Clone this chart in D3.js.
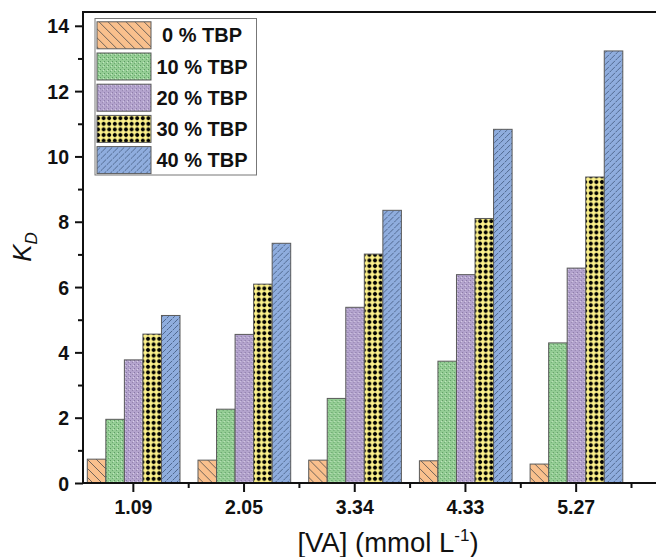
<!DOCTYPE html>
<html>
<head>
<meta charset="utf-8">
<script src="https://cdn.jsdelivr.net/npm/d3@7"></script>
<style>
  html, body { margin: 0; padding: 0; background: #fff; }
  svg { display: block; }
</style>
</head>
<body>
<svg id="chart" width="656" height="557"></svg>
<script>
// ---- Data ----
const categories = ["1.09", "2.05", "3.34", "4.33", "5.27"];
const seriesNames = ["0 % TBP", "10 % TBP", "20 % TBP", "30 % TBP", "40 % TBP"];
const tbp0  = [0.73, 0.70, 0.70, 0.68, 0.58];
const tbp10 = [1.95, 2.26, 2.59, 3.73, 4.29];
const tbp20 = [3.77, 4.55, 5.38, 6.38, 6.58];
const tbp30 = [4.56, 6.09, 7.01, 8.10, 9.37];
const tbp40 = [5.13, 7.34, 8.35, 10.83, 13.23];
const yTicks = [0, 2, 4, 6, 8, 10, 12, 14];
const yMinorTicks = [1, 3, 5, 7, 9, 11, 13];

const seriesValues = [tbp0, tbp10, tbp20, tbp30, tbp40];

const svg = d3.select("#chart");
const plot = { left: 83, top: 12, right: 662, bottom: 483 };
const FONT = "Liberation Sans, Arial, sans-serif";

// ---- Patterns ----
const defs = svg.append("defs");
// 0%: orange with backslash lines
{
  const p = defs.append("pattern").attr("id", "p0").attr("patternUnits", "userSpaceOnUse")
    .attr("width", 9).attr("height", 9);
  p.append("rect").attr("width", 9).attr("height", 9).attr("fill", "#F9C08D");
  p.append("path").attr("d", "M0,0 L9,9 M-9,0 L0,9 M9,0 L18,9 M0,-9 L9,0 M0,9 L9,18")
    .attr("stroke", "#4a4a4a").attr("stroke-width", 0.8);
}
// 10%: green speckle
{
  const p = defs.append("pattern").attr("id", "p1").attr("patternUnits", "userSpaceOnUse")
    .attr("width", 4).attr("height", 4);
  p.append("rect").attr("width", 4).attr("height", 4).attr("fill", "#94CD94");
  p.append("rect").attr("x", 0).attr("y", 0).attr("width", 1).attr("height", 1).attr("fill", "#5d9a63");
  p.append("rect").attr("x", 2).attr("y", 2).attr("width", 1).attr("height", 1).attr("fill", "#6aa870");
  p.append("rect").attr("x", 3).attr("y", 1).attr("width", 1).attr("height", 1).attr("fill", "#c4e5c2");
}
// 20%: purple speckle
{
  const p = defs.append("pattern").attr("id", "p2").attr("patternUnits", "userSpaceOnUse")
    .attr("width", 4).attr("height", 4);
  p.append("rect").attr("width", 4).attr("height", 4).attr("fill", "#B3A3CD");
  p.append("rect").attr("x", 0).attr("y", 0).attr("width", 1).attr("height", 1).attr("fill", "#8676a3");
  p.append("rect").attr("x", 2).attr("y", 2).attr("width", 1).attr("height", 1).attr("fill", "#9383ad");
  p.append("rect").attr("x", 3).attr("y", 1).attr("width", 1).attr("height", 1).attr("fill", "#d9cfe6");
}
// 30%: yellow with black dot grid
{
  const s = 5.6;
  const p = defs.append("pattern").attr("id", "p3").attr("patternUnits", "userSpaceOnUse")
    .attr("width", s).attr("height", s);
  p.append("rect").attr("width", s).attr("height", s).attr("fill", "#FBF08A");
  p.append("path")
    .attr("d", `M${s/2},${s/2-2.3} L${s/2+2.3},${s/2} L${s/2},${s/2+2.3} L${s/2-2.3},${s/2} Z`)
    .attr("fill", "#000");
  p.append("circle").attr("cx", s / 2).attr("cy", s / 2).attr("r", 1.8).attr("fill", "#000");
}
// 40%: blue with slash dashes
{
  const p = defs.append("pattern").attr("id", "p4").attr("patternUnits", "userSpaceOnUse")
    .attr("width", 6).attr("height", 6);
  p.append("rect").attr("width", 6).attr("height", 6).attr("fill", "#8FADDE");
  p.append("path").attr("d", "M0.5,4.5 L4,1 M3.5,7.5 L7,4 M-2.5,1.5 L1,-2")
    .attr("stroke", "#3e5677").attr("stroke-width", 0.8).attr("stroke-linecap", "round");
}
const fills = ["url(#p0)", "url(#p1)", "url(#p2)", "url(#p3)", "url(#p4)"];

// ---- Scales ----
const x = d3.scaleBand().domain(categories).range([78, 631.5]).paddingInner(0).paddingOuter(0);
const xInner = d3.scaleBand().domain(seriesNames).range([9.3, x.bandwidth() - 8.7]).padding(0);
const y = d3.scaleLinear().domain([0, 14]).range([plot.bottom, 25.8]);

// ---- Bars ----
const groups = svg.append("g").selectAll("g").data(categories).join("g")
  .attr("transform", d => `translate(${x(d)},0)`);
groups.each(function(cat, ci) {
  d3.select(this).selectAll("rect").data(seriesNames).join("rect")
    .attr("x", s => xInner(s))
    .attr("width", xInner.bandwidth())
    .attr("y", (s, si) => y(seriesValues[si][ci]))
    .attr("height", (s, si) => y(0) - y(seriesValues[si][ci]))
    .attr("fill", (s, si) => fills[si])
    .attr("stroke", "#5a5a5a").attr("stroke-width", 1);
});

// ---- Frame ----
svg.append("rect").attr("x", plot.left).attr("y", plot.top)
  .attr("width", plot.right - plot.left).attr("height", plot.bottom - plot.top)
  .attr("fill", "none").attr("stroke", "#111").attr("stroke-width", 2);

// ---- Y axis ----
const yAxisG = svg.append("g").attr("transform", `translate(${plot.left},0)`)
  .call(d3.axisLeft(y).tickValues(yTicks).tickSize(8).tickPadding(6).tickFormat(d3.format("d")));
yAxisG.select(".domain").remove();
yAxisG.selectAll(".tick line").attr("stroke", "#111").attr("stroke-width", 2);
yAxisG.selectAll(".tick text").attr("font-family", FONT)
  .attr("font-weight", "bold").attr("font-size", 19.5).attr("fill", "#111").attr("dy", "0.36em");
const yMinorG = svg.append("g").attr("transform", `translate(${plot.left},0)`)
  .call(d3.axisLeft(y).tickValues(yMinorTicks).tickSize(5).tickFormat(""));
yMinorG.select(".domain").remove();
yMinorG.selectAll(".tick line").attr("stroke", "#111").attr("stroke-width", 2);

// ---- X axis ----
const xAxisG = svg.append("g").attr("transform", `translate(0,${plot.bottom})`)
  .call(d3.axisBottom(x).tickSize(9).tickPadding(8));
xAxisG.select(".domain").remove();
xAxisG.selectAll(".tick line").attr("stroke", "#111").attr("stroke-width", 2);
xAxisG.selectAll(".tick text").attr("font-family", FONT)
  .attr("font-weight", "bold").attr("font-size", 19.5).attr("fill", "#111");
// minor ticks at band boundaries
const xMinor = categories.slice(1).map(c => x(c)).concat([x(categories[categories.length - 1]) + x.bandwidth()]);
svg.append("g").selectAll("line").data(xMinor).join("line")
  .attr("x1", d => d).attr("x2", d => d)
  .attr("y1", plot.bottom).attr("y2", plot.bottom + 5)
  .attr("stroke", "#111").attr("stroke-width", 2);

// ---- Axis titles ----
const yt = svg.append("text")
  .attr("transform", `translate(31,247) rotate(-90)`)
  .attr("text-anchor", "middle")
  .attr("font-family", FONT)
  .attr("font-size", 26).attr("fill", "#111").attr("font-style", "italic");
yt.append("tspan").text("K");
yt.append("tspan").attr("font-size", 17).attr("dy", 6).text("D");

const xt = svg.append("text")
  .attr("x", 388).attr("y", 552)
  .attr("text-anchor", "middle")
  .attr("font-family", FONT)
  .attr("font-size", 27.5).attr("fill", "#111");
xt.append("tspan").text("[VA] (mmol L");
xt.append("tspan").attr("font-size", 17).attr("dy", -11).text("-1");
xt.append("tspan").attr("dy", 11).text(")");

// ---- Legend ----
const lg = svg.append("g");
lg.append("rect").attr("x", 95).attr("y", 18.5).attr("width", 161.5).attr("height", 156.5)
  .attr("fill", "#fff").attr("stroke", "#777").attr("stroke-width", 1);
const items = lg.selectAll("g.item").data(seriesNames).join("g").attr("class", "item")
  .attr("transform", (d, i) => `translate(0,${21.8 + i * 31.2})`);
items.append("rect").attr("x", 97).attr("y", 0).attr("width", 54).attr("height", 27)
  .attr("fill", (d, i) => fills[i]).attr("stroke", "#5a5a5a").attr("stroke-width", 1);
items.append("text").attr("x", 202).attr("y", 20.5)
  .attr("text-anchor", "middle")
  .attr("font-family", FONT)
  .attr("font-weight", "bold").attr("font-size", 20).attr("fill", "#111")
  .text(d => d);
</script>
</body>
</html>
